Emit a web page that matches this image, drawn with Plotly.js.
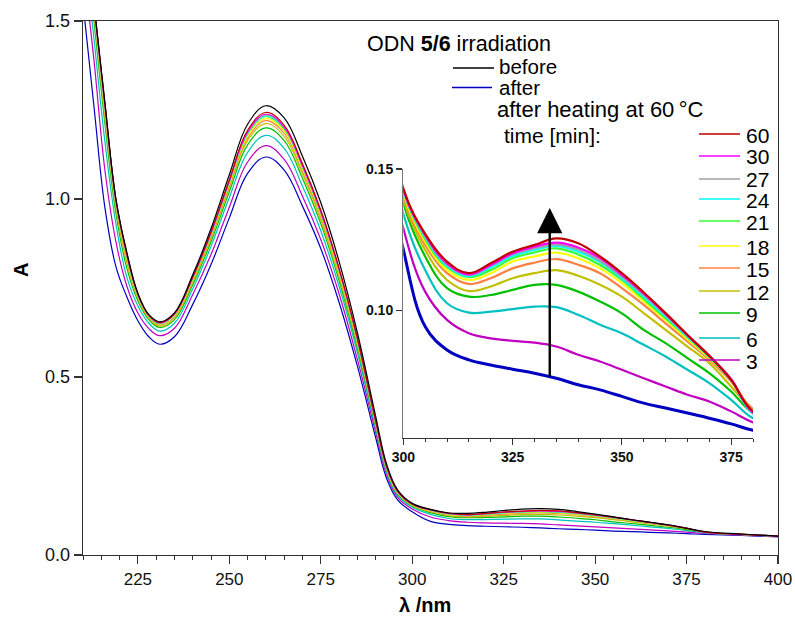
<!DOCTYPE html>
<html>
<head>
<meta charset="utf-8">
<script src="https://cdn.plot.ly/plotly-3.0.1.min.js"></script>
<style>html,body{margin:0;padding:0;background:#fff;}#chart{width:795px;height:625px;}</style>
</head>
<body>
<div id="chart"></div>
<script>
// Wavelength grid (nm)
const wl = [210,213,216,219,222,225,228,231,235,240,245,250,255,260,265,270,275,280,285,290,293,296,300,305,310,315,320,325,330,335,340,345,350,355,360,365,370,375,380,390,400];

// Absorbance spectra
const before = [1.83,1.55,1.27,1.00,0.85,0.735,0.675,0.655,0.68,0.787,0.917,1.068,1.21,1.262,1.228,1.12,0.99,0.825,0.625,0.39,0.255,0.183,0.145,0.128,0.118,0.117,0.120,0.125,0.129,0.130,0.128,0.122,0.115,0.107,0.099,0.092,0.085,0.075,0.066,0.059,0.053];
const after = [1.55,1.26,0.975,0.81,0.725,0.658,0.613,0.592,0.613,0.704,0.816,0.947,1.072,1.118,1.081,0.980,0.861,0.710,0.531,0.33,0.215,0.155,0.1216,0.0944,0.0861,0.0826,0.0808,0.0793,0.0779,0.0761,0.0738,0.0720,0.0697,0.0673,0.0656,0.0638,0.0620,0.0600,0.0577,0.055,0.051];
const t3 = [1.67,1.39,1.08,0.88,0.755,0.68,0.636,0.616,0.637,0.732,0.844,0.977,1.104,1.150,1.111,1.008,0.886,0.734,0.550,0.345,0.225,0.162,0.1291,0.1067,0.0967,0.0920,0.0902,0.0893,0.0887,0.0873,0.0844,0.0820,0.0791,0.0761,0.0732,0.0703,0.0679,0.0644,0.0605,0.056,0.052];
const t6 = [1.74,1.45,1.16,0.93,0.78,0.70,0.651,0.629,0.651,0.748,0.867,1.004,1.131,1.179,1.142,1.036,0.911,0.755,0.569,0.355,0.232,0.167,0.1343,0.1143,0.1026,0.0993,0.0996,0.1005,0.1014,0.1012,0.0985,0.0950,0.0920,0.0879,0.0838,0.0791,0.0744,0.0685,0.0620,0.057,0.052];
const t9 = [1.78,1.50,1.21,0.96,0.805,0.714,0.661,0.639,0.661,0.759,0.880,1.020,1.152,1.200,1.164,1.058,0.931,0.771,0.581,0.362,0.237,0.171,0.1379,0.1191,0.1079,0.1049,0.1055,0.1073,0.1091,0.1091,0.1067,0.1032,0.0990,0.0932,0.0885,0.0832,0.0779,0.0714,0.0638,0.058,0.053];
const t12 = [1.80,1.52,1.23,0.975,0.82,0.721,0.665,0.643,0.667,0.767,0.889,1.031,1.164,1.212,1.176,1.070,0.941,0.781,0.590,0.366,0.240,0.173,0.1393,0.1214,0.1108,0.1069,0.1085,0.1114,0.1132,0.1143,0.1123,0.1091,0.1049,0.0991,0.0932,0.0873,0.0814,0.0732,0.0650,0.058,0.053];
const t15 = [1.81,1.53,1.24,0.985,0.83,0.726,0.668,0.646,0.671,0.771,0.894,1.036,1.171,1.220,1.185,1.077,0.950,0.790,0.597,0.370,0.242,0.175,0.1405,0.1232,0.1132,0.1094,0.1114,0.1149,0.1169,0.1182,0.1162,0.1132,0.1079,0.1020,0.0955,0.0891,0.0826,0.0750,0.0652,0.058,0.053];
const t18 = [1.82,1.535,1.25,0.99,0.835,0.728,0.67,0.648,0.673,0.774,0.899,1.042,1.177,1.226,1.191,1.084,0.956,0.794,0.600,0.372,0.244,0.176,0.1414,0.1243,0.1143,0.1108,0.1132,0.1173,0.1191,0.1205,0.1185,0.1149,0.1097,0.1032,0.0967,0.0899,0.0832,0.0755,0.0644,0.058,0.053];
const t21 = [1.82,1.54,1.255,0.992,0.838,0.73,0.671,0.649,0.675,0.777,0.901,1.046,1.182,1.231,1.196,1.089,0.960,0.799,0.603,0.374,0.245,0.177,0.1420,0.1252,0.1153,0.1118,0.1143,0.1185,0.1205,0.1220,0.1198,0.1161,0.1108,0.1041,0.0973,0.0906,0.0835,0.0755,0.0640,0.058,0.053];
const t24 = [1.825,1.54,1.26,0.995,0.84,0.731,0.672,0.650,0.676,0.778,0.903,1.048,1.185,1.234,1.199,1.091,0.962,0.800,0.605,0.375,0.246,0.178,0.1423,0.1259,0.1158,0.1122,0.1152,0.1193,0.1214,0.1228,0.1208,0.1171,0.1114,0.1049,0.0979,0.0908,0.0838,0.0755,0.0635,0.058,0.053];
const t27 = [1.825,1.545,1.262,0.996,0.842,0.732,0.672,0.651,0.677,0.779,0.904,1.049,1.186,1.236,1.200,1.092,0.963,0.801,0.606,0.376,0.247,0.178,0.1426,0.1263,0.1163,0.1126,0.1158,0.1199,0.1220,0.1234,0.1216,0.1176,0.1120,0.1055,0.0985,0.0911,0.0840,0.0758,0.0638,0.058,0.053];
const t30 = [1.83,1.545,1.264,0.997,0.843,0.733,0.673,0.652,0.677,0.780,0.905,1.051,1.188,1.238,1.202,1.094,0.965,0.803,0.608,0.377,0.248,0.179,0.1428,0.1267,0.1167,0.1128,0.1161,0.1202,0.1226,0.1240,0.1223,0.1185,0.1126,0.1061,0.0988,0.0914,0.0840,0.0758,0.0640,0.058,0.053];
const t60 = [1.83,1.548,1.266,0.998,0.845,0.734,0.674,0.653,0.678,0.781,0.908,1.054,1.193,1.243,1.207,1.099,0.969,0.806,0.610,0.378,0.249,0.180,0.1432,0.1271,0.1173,0.1132,0.1167,0.1208,0.1232,0.1255,0.1238,0.1191,0.1132,0.1064,0.0991,0.0914,0.0840,0.0755,0.0644,0.058,0.053];

// Series labels and colours
const heatLabels = ['3','6','9','12','15','18','21','24','27','30','60'];
const heatSeries = [t3,t6,t9,t12,t15,t18,t21,t24,t27,t30,t60];
const heatColors = ['#c000c0','#00c0c0','#00c000','#c0c000','#ff8040','#ffff00','#33ff33','#00ffff','#a0a0a0','#ff00ff','#c00000'];
const beforeColor = '#000000';
const afterColor = '#0000c0';

// Tick values
const mainXTicks = [225,250,275,300,325,350,375,400];
const mainYTicks = [0.0,0.5,1.0,1.5];
const insetXTicks = [300,325,350,375];
const insetYTicks = [0.10,0.15];

const FONT = 'Liberation Sans, Arial, Helvetica, sans-serif';
const W = 795, H = 625;
const M = {l:83, r:17, t:21, b:70};
const PW = W - M.l - M.r, PH = H - M.t - M.b;
const px = x => (x - M.l) / PW;
const py = y => (H - M.b - y) / PH;

const SM = 1.1;
const traces = [];
traces.push({x: wl, y: after, type:'scatter', mode:'lines', line:{color:afterColor, width:1.2, shape:'spline', smoothing:SM}, xaxis:'x', yaxis:'y', hoverinfo:'skip'});
heatSeries.forEach((s,i) => traces.push({x: wl, y: s, type:'scatter', mode:'lines', line:{color:heatColors[i], width:1.2, shape:'spline', smoothing:SM}, xaxis:'x', yaxis:'y', hoverinfo:'skip'}));
traces.push({x: wl, y: before, type:'scatter', mode:'lines', line:{color:beforeColor, width:1.2, shape:'spline', smoothing:SM}, xaxis:'x', yaxis:'y', hoverinfo:'skip'});
traces.push({x: wl, y: after, type:'scatter', mode:'lines', line:{color:afterColor, width:3, shape:'spline', smoothing:SM}, xaxis:'x2', yaxis:'y2', hoverinfo:'skip'});
heatSeries.forEach((s,i) => traces.push({x: wl, y: s, type:'scatter', mode:'lines', line:{color:heatColors[i], width:2.2, shape:'spline', smoothing:SM}, xaxis:'x2', yaxis:'y2', hoverinfo:'skip'}));

const axisLine = '#333';

const legendRows = [
  {lab:'60', y:134}, {lab:'30', y:156}, {lab:'27', y:179}, {lab:'24', y:199},
  {lab:'21', y:221}, {lab:'18', y:246}, {lab:'15', y:268}, {lab:'12', y:291},
  {lab:'9', y:313}, {lab:'6', y:338}, {lab:'3', y:360}
];
const shapes = [];
const annotations = [];
const LF = 21;
annotations.push({xref:'paper', yref:'paper', x:px(365), y:py(44), xanchor:'left', yanchor:'middle', showarrow:false,
  text:'ODN <b>5/6</b> irradiation', font:{family:FONT, size:21.5, color:'#000'}});
shapes.push({type:'line', xref:'paper', yref:'paper', x0:px(453), x1:px(494), y0:py(68), y1:py(68), line:{color:beforeColor, width:1.3}});
annotations.push({xref:'paper', yref:'paper', x:px(497), y:py(66.5), xanchor:'left', yanchor:'middle', showarrow:false,
  text:'before', font:{family:FONT, size:20.5, color:'#000'}});
shapes.push({type:'line', xref:'paper', yref:'paper', x0:px(452), x1:px(492), y0:py(87.5), y1:py(87.5), line:{color:afterColor, width:1.3}});
annotations.push({xref:'paper', yref:'paper', x:px(497), y:py(88), xanchor:'left', yanchor:'middle', showarrow:false,
  text:'after', font:{family:FONT, size:20.5, color:'#000'}});
annotations.push({xref:'paper', yref:'paper', x:px(495), y:py(110), xanchor:'left', yanchor:'middle', showarrow:false,
  text:'after heating at 60\u2009°C', font:{family:FONT, size:22, color:'#000'}});
annotations.push({xref:'paper', yref:'paper', x:px(502), y:py(135), xanchor:'left', yanchor:'middle', showarrow:false,
  text:'time [min]:', font:{family:FONT, size:LF, color:'#000'}});
legendRows.forEach(r => {
  const idx = heatLabels.indexOf(r.lab);
  shapes.push({type:'line', xref:'paper', yref:'paper', x0:px(699), x1:px(740), y0:py(r.y), y1:py(r.y), line:{color:heatColors[idx], width:1.5}});
  annotations.push({xref:'paper', yref:'paper', x:px(744), y:py(r.y+1), xanchor:'left', yanchor:'middle', showarrow:false,
    text:heatLabels[idx], font:{family:FONT, size:LF, color:'#000'}});
});

annotations.push({xref:'paper', yref:'paper', x:px(425), y:py(605), xanchor:'center', yanchor:'middle', showarrow:false,
  text:'<b>λ /nm</b>', font:{family:FONT, size:20, color:'#000'}});
annotations.push({xref:'paper', yref:'paper', x:px(21), y:py(270), xanchor:'center', yanchor:'middle', showarrow:false, textangle:-90,
  text:'<b>A</b>', font:{family:FONT, size:20, color:'#000'}});

annotations.push({xref:'x2', yref:'y2', axref:'x2', ayref:'y2', x:333.5, y:0.1362, ax:333.5, ay:0.0762, text:'', showarrow:true,
  arrowhead:2, arrowsize:2.1, arrowwidth:2.4, arrowcolor:'#000', standoff:0});

const layout = {
  width: W, height: H,
  margin: {l:M.l, r:M.r, t:M.t, b:M.b, pad:0},
  paper_bgcolor:'#fff', plot_bgcolor:'rgba(0,0,0,0)',
  showlegend:false,
  font:{family:FONT, color:'#000'},
  xaxis: {domain:[0,1], range:[210,400], tickvals:mainXTicks, ticks:'outside', ticklen:8, tickwidth:1.2, tickcolor:axisLine,
    minor:{dtick:5, tick0:210, ticks:'outside', ticklen:4, tickwidth:1, tickcolor:axisLine, showgrid:false},
    showline:true, linecolor:axisLine, linewidth:1.3, mirror:true, showgrid:false, zeroline:false,
    tickfont:{family:FONT, size:17, color:'#111'}, anchor:'y'},
  yaxis: {domain:[0,1], range:[0,1.5], tickvals:mainYTicks, tickformat:'.1f', ticks:'outside', ticklen:8, tickwidth:1.2, tickcolor:axisLine,
    showline:true, linecolor:axisLine, linewidth:1.3, mirror:true, showgrid:false, zeroline:false,
    tickfont:{family:FONT, size:18, color:'#111'}, anchor:'x'},
  xaxis2: {domain:[px(403.3), px(753)], range:[300,380], tickvals:insetXTicks, ticktext:insetXTicks.map(v => '<b>' + v + '</b>'),
    ticks:'outside', ticklen:6, tickwidth:1.2, tickcolor:axisLine,
    minor:{dtick:5, tick0:300, ticks:'outside', ticklen:3, tickwidth:1, tickcolor:axisLine, showgrid:false},
    showline:true, linecolor:axisLine, linewidth:1.3, mirror:false, showgrid:false, zeroline:false,
    tickfont:{family:FONT, size:14, color:'#111'}, anchor:'y2'},
  yaxis2: {domain:[py(438), py(169)], range:[0.055,0.15], tickvals:insetYTicks, ticktext:insetYTicks.map(v => '<b>' + v.toFixed(2) + '</b>'),
    ticks:'outside', ticklen:6, tickwidth:1.2, tickcolor:axisLine,
    showline:true, linecolor:'#777', linewidth:1.3, mirror:false, showgrid:false, zeroline:false,
    tickfont:{family:FONT, size:14, color:'#111'}, anchor:'x2'},
  shapes: shapes,
  annotations: annotations
};

Plotly.newPlot('chart', traces, layout, {staticPlot:true, displayModeBar:false});
</script>
</body>
</html>
